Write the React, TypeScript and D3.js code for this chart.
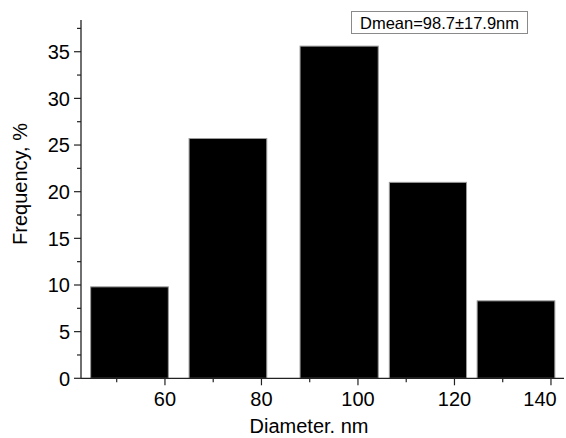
import React from "react";
import * as d3 from "d3";

const binStart = [44.6, 65.0, 88.0, 106.5, 124.7];
const binEnd = [60.7, 81.1, 104.2, 122.5, 140.8];
const frequency = [9.8, 25.7, 35.6, 21.0, 8.3];
const xMajorTicks = [60, 80, 100, 120, 140];
const xMinorTicks = [50, 70, 90, 110, 130];
const yMajorTicks = [0, 5, 10, 15, 20, 25, 30, 35];
const yMinorTicks = [2.5, 7.5, 12.5, 17.5, 22.5, 27.5, 32.5, 37.5];
const legendText = "Dmean=98.7±17.9nm";
const xTitle = "Diameter. nm";
const yTitle = "Frequency, %";

const W = 566;
const H = 438;
const FONT = "Arial, 'Liberation Sans', sans-serif";

export default function App() {
  const x = d3.scaleLinear().domain([42.6, 142.7]).range([81, 564]);
  const y = d3.scaleLinear().domain([0, 38.4]).range([378.3, 20]);
  const axisColor = "#222";
  const y0 = y(0);
  const x0 = x.range()[0];

  return (
    <svg
      width={W}
      height={H}
      style={{ position: "absolute", left: 0, top: 0, background: "#fff" }}
      fontFamily={FONT}
    >
      <rect width={W} height={H} fill="#fff" />
      {frequency.map((f, i) => (
        <rect
          key={i}
          x={x(binStart[i])}
          y={y(f)}
          width={x(binEnd[i]) - x(binStart[i])}
          height={y0 - y(f)}
          fill="#000"
          stroke="#9a9a9a"
          strokeWidth={1}
        />
      ))}
      {/* axes */}
      <line x1={x0} x2={x0} y1={y.range()[1]} y2={y0} stroke={axisColor} strokeWidth={1.3} />
      <line x1={x0} x2={x.range()[1]} y1={y0} y2={y0} stroke={axisColor} strokeWidth={1.3} />
      {yMajorTicks.map((t) => (
        <g key={"ym" + t}>
          <line x1={x0 - 7} x2={x0} y1={y(t)} y2={y(t)} stroke={axisColor} strokeWidth={1.2} />
          <text x={70} y={y(t) + 7.3} textAnchor="end" fontSize={20} fill="#000">
            {t}
          </text>
        </g>
      ))}
      {yMinorTicks.map((t) => (
        <line key={"yn" + t} x1={x0 - 4} x2={x0} y1={y(t)} y2={y(t)} stroke={axisColor} strokeWidth={1.2} />
      ))}
      {xMajorTicks.map((t) => {
        const px = x(t);
        const labelX = Math.min(px, 540);
        return (
          <g key={"xm" + t}>
            <line x1={px} x2={px} y1={y0} y2={y0 + 7} stroke={axisColor} strokeWidth={1.2} />
            <text x={labelX} y={406} textAnchor="middle" fontSize={20} fill="#000">
              {t}
            </text>
          </g>
        );
      })}
      {xMinorTicks.map((t) => (
        <line key={"xn" + t} x1={x(t)} x2={x(t)} y1={y0} y2={y0 + 4} stroke={axisColor} strokeWidth={1.2} />
      ))}
      <text x={309} y={433} textAnchor="middle" fontSize={20} fill="#000">
        {xTitle}
      </text>
      <text
        transform={`translate(27,184) rotate(-90)`}
        textAnchor="middle"
        fontSize={20}
        fill="#000"
      >
        {yTitle}
      </text>
      <rect x={351.5} y={11.5} width={176} height={22} fill="#fff" stroke="#8a8a8a" strokeWidth={1} />
      <text x={439.5} y={28.5} textAnchor="middle" fontSize={16.5} fill="#000">
        {legendText}
      </text>
    </svg>
  );
}
